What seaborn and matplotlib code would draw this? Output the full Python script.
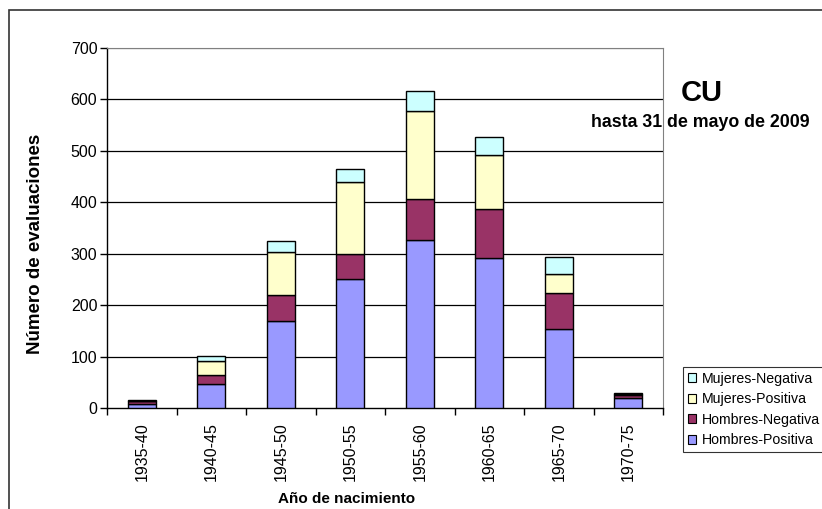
import numpy as np
import pandas as pd
import seaborn as sns
import matplotlib.pyplot as plt
from matplotlib.patches import Patch, Rectangle

# data
periodos = ['1935-40', '1940-45', '1945-50', '1950-55', '1955-60', '1960-65', '1965-70', '1970-75']
hombres_pos = [7, 47, 169, 250, 327, 292, 154, 20]
hombres_neg = [7, 18, 51, 50, 80, 95, 69, 6]
mujeres_pos = [0, 26, 83, 140, 170, 104, 38, 1]
mujeres_neg = [1, 10, 22, 25, 39, 36, 33, 3]

series = ['Hombres-Positiva', 'Hombres-Negativa', 'Mujeres-Positiva', 'Mujeres-Negativa']
colores = ['#9999FF', '#993366', '#FFFFCC', '#CCFFFF']

df = pd.DataFrame({'periodo': periodos,
                   'Hombres-Positiva': hombres_pos,
                   'Hombres-Negativa': hombres_neg,
                   'Mujeres-Positiva': mujeres_pos,
                   'Mujeres-Negativa': mujeres_neg})

sns.set_style('white', {'text.color': 'black', 'axes.labelcolor': 'black',
                        'xtick.color': 'black', 'ytick.color': 'black'})
plt.rcParams['font.family'] = ['Liberation Sans', 'DejaVu Sans']

fig = plt.figure(figsize=(8.22, 5.09), dpi=100)
ax = fig.add_axes([107 / 822, 1 - 408 / 509, 556 / 822, 360 / 509])

# stacked bars
base = np.zeros(len(periodos))
for s, c in zip(series, colores):
    sns.barplot(data=df, x='periodo', y=s, color=c, width=0.41, bottom=base,
                edgecolor='black', linewidth=1.0, saturation=1, ax=ax, zorder=3)
    base = base + df[s].values

ax.set_ylim(0, 700)
ax.set_xlim(-0.5, len(periodos) - 0.5)
ax.set_yticks(range(0, 701, 100))
for y in range(100, 701, 100):
    ax.axhline(y, color='black' if y < 700 else '#808080', linewidth=0.9, zorder=1)

for side in ['left', 'bottom']:
    ax.spines[side].set_color('black')
    ax.spines[side].set_linewidth(1.0)
ax.spines['right'].set_visible(True)
ax.spines['top'].set_visible(True)
ax.spines['right'].set_color('#808080')
ax.spines['top'].set_color('#808080')

ax.set_xticks(np.arange(-0.5, len(periodos), 1.0), minor=True)
ax.tick_params(axis='x', which='minor', direction='out', length=5, width=1, color='black', bottom=True)
ax.tick_params(axis='x', which='major', length=0, pad=10, labelsize=11.5, labelrotation=90,
               labelcolor='black')
ax.tick_params(axis='y', direction='out', length=5, width=1, color='black', left=True, pad=2,
               labelsize=11.5, labelcolor='black')

ax.set_xlabel('Año de nacimiento', fontsize=11, fontweight='bold', color='black')
ax.set_ylabel('Número de evaluaciones', fontsize=13.5, fontweight='bold', color='black')
ax.xaxis.set_label_coords(0.43, -0.232)
ax.yaxis.set_label_coords(-0.113, 0.456)

fig.text(702 / 822, 1 - 93 / 509, 'CU', fontsize=21, fontweight='bold', ha='center', va='center',
         color='black')
fig.text(700 / 822, 1 - 123 / 509, 'hasta 31 de mayo de 2009', fontsize=12.8, fontweight='bold',
         ha='center', va='center', color='black')

handles = [Patch(facecolor=c, edgecolor='black', linewidth=0.8) for c in colores][::-1]
leg = fig.legend(handles, series[::-1], loc='upper left', bbox_to_anchor=(683 / 822, 1 - 367 / 509),
                 fontsize=10.2, frameon=True, fancybox=False, edgecolor='black', handlelength=0.6,
                 handleheight=0.6, handletextpad=0.35, borderpad=0.35, labelspacing=0.45,
                 borderaxespad=0, labelcolor='black')
leg.get_frame().set_linewidth(0.8)

# outer chart border
fig.patches.append(Rectangle((9 / 822, -0.05), 1.0, 1 - 10 / 509 + 0.05, transform=fig.transFigure,
                             fill=False, edgecolor='#333333', linewidth=1.2))

fig.savefig('out.png', dpi=100)
